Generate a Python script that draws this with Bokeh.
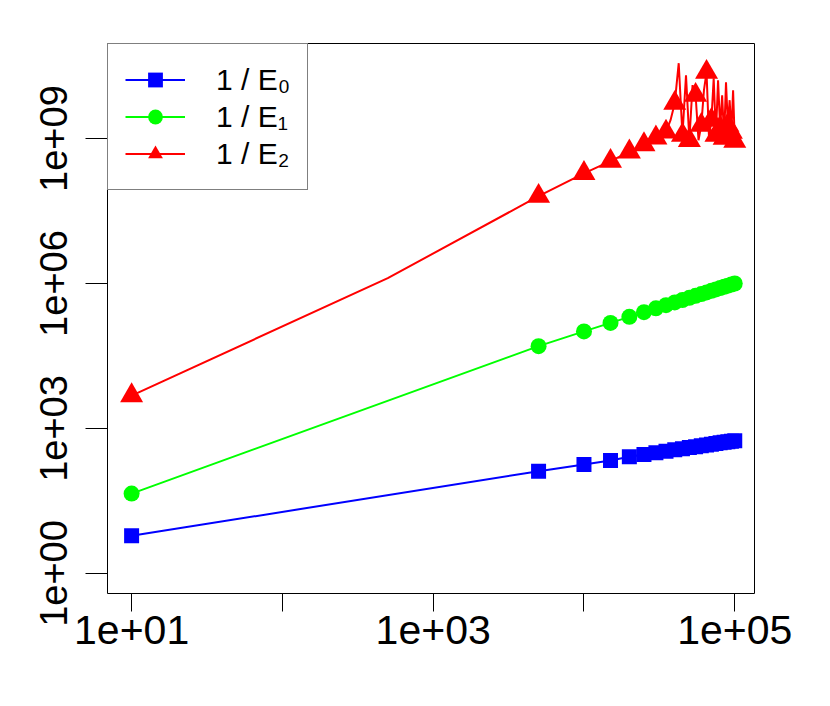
from bokeh.plotting import figure
from bokeh.models import Range1d, FixedTicker, CustomJSTickFormatter, Legend, LegendItem
from bokeh.embed import file_html
from bokeh.resources import INLINE

# ---- data ----
x_pts = [10, 5000, 10000, 15000, 20000, 25000, 30000, 35000, 40000, 45000, 50000,
         55000, 60000, 65000, 70000, 75000, 80000, 85000, 90000, 95000, 100000]

inv_e0 = [6.0, 131, 180, 218, 259, 288, 314, 340, 361, 382, 402,
          421, 439, 456, 473, 488, 504, 519, 533, 547, 556]

inv_e1 = [45, 5.05e4, 1.02e5, 1.53e5, 2.04e5, 2.55e5, 3.06e5, 3.56e5, 4.06e5, 4.56e5, 5.06e5,
          5.55e5, 6.05e5, 6.55e5, 7.04e5, 7.54e5, 8.03e5, 8.53e5, 9.02e5, 9.52e5, 1.0e6]

inv_e2 = [4.8e3, 6.4e7, 1.9e8, 3.4e8, 5.3e8, 7.5e8, 1.03e9, 1.37e9, 5.38e9, 1.17e9, 9.2e8,
          7.87e9, 1.89e9, 2.36e10, 2.39e9, 1.17e9, 1.64e9, 1.02e9, 1.89e9, 1.35e9, 8.8e8]

# extra points of the 1/E2 line drawn without markers
inv_e2_line_x = [500, 37500, 42500, 47500, 52500, 57500, 62500, 67500, 72500,
                 77500, 82500, 87500, 92500, 97500]
inv_e2_line_y = [1.29e6, 2.39e9, 3.62e10, 2.04e10, 1.27e10, 9.2e8, 1.0e10, 1.02e9, 1.77e10,
                 1.61e10, 7.87e9, 1.46e10, 6.21e9, 1.0e10]

series_labels = ["1 / E\u2080", "1 / E\u2081", "1 / E\u2082"]
series_colors = ["#0000FF", "#00FF00", "#FF0000"]

x_ticks = [10, 100, 1000, 10000, 100000]
x_tick_labels = ["1e+01", "", "1e+03", "", "1e+05"]
y_ticks = [1, 1000, 1000000, 1000000000]
y_tick_labels = ["1e+00", "1e+03", "1e+06", "1e+09"]

FONT = "Liberation Sans"

p = figure(width=814, height=690, x_axis_type="log", y_axis_type="log",
           x_range=Range1d(6.92, 1.352e5), y_range=Range1d(0.385, 9.25e10),
           output_backend="svg", toolbar_location=None,
           min_border_left=107, min_border_right=60, min_border_top=43, min_border_bottom=97)

p.background_fill_color = "white"
p.border_fill_color = "white"
p.outline_line_color = "black"
p.outline_line_width = 1
p.xgrid.visible = False
p.ygrid.visible = False

# series
l0 = p.line(x_pts, inv_e0, line_color=series_colors[0], line_width=2)
m0 = p.scatter(x_pts, inv_e0, marker="square", size=15, fill_color=series_colors[0], line_color=None)

l1 = p.line(x_pts, inv_e1, line_color=series_colors[1], line_width=2)
m1 = p.scatter(x_pts, inv_e1, marker="circle", size=16, fill_color=series_colors[1], line_color=None)

red_pairs = sorted(zip(x_pts + inv_e2_line_x, inv_e2 + inv_e2_line_y))
l2 = p.line([a for a, b in red_pairs], [b for a, b in red_pairs], line_color=series_colors[2], line_width=2)
m2 = p.scatter(x_pts, inv_e2, marker="triangle", size=23, fill_color=series_colors[2], line_color=None)

# axes
fmt_code = """
for (let i = 0; i < vals.length; i++) {
  if (Math.abs(Math.log10(vals[i]) - Math.log10(tick)) < 1e-6) return labs[i];
}
return "";
"""
p.xaxis.ticker = FixedTicker(ticks=x_ticks, minor_ticks=[])
p.xaxis.formatter = CustomJSTickFormatter(args=dict(vals=x_ticks, labs=x_tick_labels), code=fmt_code)
p.yaxis.ticker = FixedTicker(ticks=y_ticks, minor_ticks=[])
p.yaxis.formatter = CustomJSTickFormatter(args=dict(vals=y_ticks, labs=y_tick_labels), code=fmt_code)

for ax in (p.xaxis, p.yaxis):
    ax.axis_line_color = None
    ax.major_tick_in = 0
    ax.minor_tick_line_color = None
    ax.major_tick_line_color = "black"
    ax.major_tick_line_width = 1
    ax.major_label_text_font = FONT
    ax.major_label_text_color = "black"

p.xaxis.major_label_text_font_size = "41px"
p.yaxis.major_label_text_font_size = "38px"
p.xaxis.major_tick_out = 18
p.xaxis.major_label_standoff = 4
p.yaxis.major_tick_out = 22
p.yaxis.major_label_standoff = 18
p.yaxis.major_label_orientation = "vertical"

legend = Legend(items=[
    LegendItem(label=series_labels[0], renderers=[l0, m0]),
    LegendItem(label=series_labels[1], renderers=[l1, m1]),
    LegendItem(label=series_labels[2], renderers=[l2, m2]),
], location="top_left")
legend.margin = 0
legend.padding = 17
legend.spacing = 0
legend.glyph_height = 37
legend.label_height = 37
legend.glyph_width = 60
legend.label_standoff = 31
legend.label_text_font = FONT
legend.label_text_font_size = "30px"
legend.label_text_color = "black"
legend.border_line_color = "black"
legend.border_line_width = 1
legend.background_fill_color = "white"
legend.background_fill_alpha = 1.0
p.add_layout(legend)

open("out.html", "w").write(file_html(p, INLINE))
